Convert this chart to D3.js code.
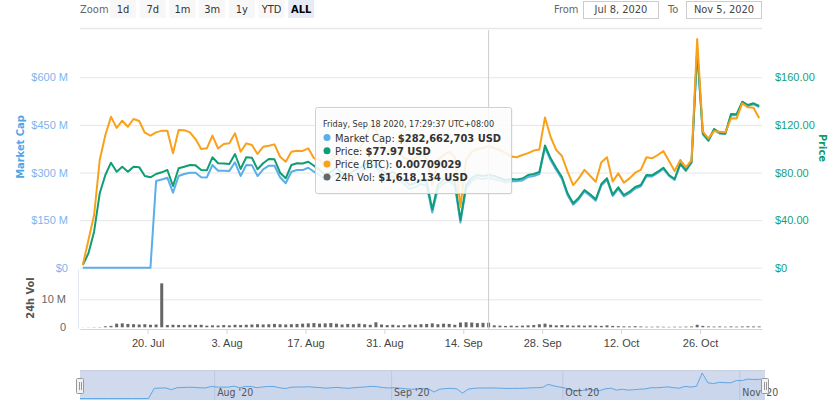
<!DOCTYPE html>
<html>
<head>
<meta charset="utf-8">
<script src="https://cdn.jsdelivr.net/npm/d3@7"></script>
<style>
  body { margin: 0; background: #fff; }
  svg { font-family: 'DejaVu Sans Condensed', 'DejaVu Sans', sans-serif; }
  .grid line { stroke: #e6e6e6; }
  .grid path { display: none; }
  .noline path, .noline line { display: none; }
</style>
</head>
<body>
<div id="chart"></div>
<script>
// daily points, Jul 8 2020 .. Nov 5 2020
var dates = d3.timeDay.range(new Date(2020, 6, 8), new Date(2020, 10, 6))
  .map(function(d) { return d3.timeHour.offset(d, 12); });

// Market cap, million USD
var marketCap = [0,0,0,0,0,0,0,0,0,0,
  0,0,0,273.2,277.9,283.6,236.3,289.0,295.3,299.4,
  299.0,284.9,284.5,323.6,305.7,305.3,305.0,332.1,289.0,323.6,
  323.2,288.8,310.1,321.4,321.2,284.9,266.0,302.5,307.9,307.6,
  315.1,302.5,292.1,276.4,285.8,298.4,282.7,273.2,289.0,300.0,
  309.5,325.2,318.9,293.7,282.7,289.0,276.4,263.8,248.0,254.3,
  263.8,259.0,174.0,249.6,265.3,271.6,259.0,142.4,251.2,273.2,
  282.7,279.5,282.662703,279.0,274.8,268.5,273.2,272.8,274.8,285.8,
  289.0,295.3,378.8,338.5,307.9,279.5,228.2,198.2,215.9,240.1,
  226.6,210.8,259.0,277.0,225.8,248.6,224.4,234.8,249.3,256.8,
  288.3,287.5,298.7,311.3,289.0,276.4,325.8,304.7,330.9,682.9,
  420.4,399.3,433.9,422.3,421.2,481.2,480.6,520.0,509.6,514.9,
  506.4];

// Price, USD
var priceUsd = [2.27,12.10,30.25,62.52,77.90,88.23,80.67,84.87,80.67,84.87,
  84.5,77.06,75.96,78.74,80.16,82.10,68.65,83.53,84.87,86.30,
  86.0,82.10,81.8,92.77,87.73,87.5,87.14,95.54,82.94,92.77,
  92.43,82.69,87.73,91.34,91.09,79.83,75.12,86.30,87.73,87.6,
  89.07,85.71,82.10,77.90,80.42,83.78,79.58,77.06,81.26,83.5,
  86.30,90.50,88.82,82.10,78.74,80.42,77.06,73.69,69.49,71.17,
  73.69,72.01,48.91,69.49,73.69,75.38,72.01,40.08,69.49,75.38,
  77.90,77.06,77.97,77.06,75.38,73.69,74.54,74.2,74.96,77.90,
  78.74,80.42,102.68,91.93,83.78,76.21,62.52,54.12,58.82,65.29,
  61.68,57.48,70.33,75.12,61.4,67.56,61.09,63.86,67.8,69.49,
  77.90,77.6,80.67,84.03,77.90,74.54,87.73,82.10,89.07,182.93,
  112.94,107.31,116.55,113.44,112.7,129.16,129.0,139.49,136.72,138.15,
  135.88];

// Price, BTC
var priceBtc = [0.00016,0.00162,0.00307,0.00628,0.00774,0.00880,0.00815,0.00857,0.00822,0.00867,
  0.00855,0.00787,0.00770,0.00789,0.00799,0.00798,0.00667,0.00803,0.00802,0.00789,
  0.00750,0.00692,0.00696,0.00770,0.00695,0.00721,0.00725,0.00784,0.00676,0.00725,
  0.00715,0.00663,0.00705,0.00711,0.00719,0.00647,0.00618,0.00676,0.00682,0.00681,
  0.00696,0.00638,0.00628,0.00599,0.00626,0.00657,0.00629,0.00610,0.00640,0.00686,
  0.00745,0.00832,0.00803,0.00715,0.00675,0.00686,0.00669,0.00640,0.00628,0.00640,
  0.00657,0.00645,0.00482,0.00628,0.00657,0.00675,0.00645,0.00354,0.00628,0.00675,
  0.00692,0.00698,0.00709029,0.00697,0.00686,0.00669,0.00648,0.00644,0.00657,0.00668,
  0.00683,0.00689,0.00876,0.00762,0.00686,0.00651,0.00560,0.00482,0.00521,0.00570,
  0.00536,0.00501,0.00615,0.00644,0.00502,0.00550,0.00496,0.00521,0.00554,0.00570,
  0.00644,0.00638,0.00657,0.00680,0.00622,0.00564,0.00628,0.00585,0.00627,0.01333,
  0.00793,0.00754,0.00797,0.00793,0.00789,0.00871,0.00870,0.00959,0.00935,0.00933,
  0.00871];

// 24h volume, million USD
var volume = [0.02,0.05,0.08,0.1,0.35,0.5,1.3,1.4,1.2,1.1,
  1.0,1.1,0.9,1.0,15.7,0.8,0.9,0.85,0.8,0.9,
  0.85,0.9,0.6,0.7,0.65,0.8,0.7,0.9,0.8,0.9,
  1.0,1.1,1.0,1.1,1.2,1.1,1.0,1.1,1.2,1.3,
  1.4,1.5,1.3,1.4,1.5,1.3,1.0,1.2,1.1,1.3,
  1.1,0.9,1.8,1.0,0.8,0.9,0.7,0.8,1.0,0.9,
  1.1,1.2,1.4,1.1,1.3,1.2,0.9,1.7,1.8,1.7,
  1.5,1.6,1.618134,0.7,0.6,0.5,0.6,0.5,0.6,0.7,
  0.8,1.1,1.3,0.9,0.7,0.8,0.7,0.6,0.7,0.6,
  0.7,0.6,0.5,0.7,0.5,0.4,0.35,0.3,0.4,0.3,
  0.2,0.2,0.25,0.2,0.15,0.2,0.2,0.25,0.3,0.9,
  0.5,0.3,0.25,0.3,0.2,0.3,0.25,0.3,0.35,0.3,
  0.3];

var mcTicks = [0, 150, 300, 450, 600];
var priceTicks = [0, 40, 80, 120, 160];
var volTicks = [0, 10];
var xTicks = [new Date(2020,6,20), new Date(2020,7,3), new Date(2020,7,17), new Date(2020,7,31),
  new Date(2020,8,14), new Date(2020,8,28), new Date(2020,9,12), new Date(2020,9,26)];
var navTicks = [new Date(2020,7,1), new Date(2020,8,1), new Date(2020,9,1), new Date(2020,10,1)];
var buttons = ["1d", "7d", "1m", "3m", "1y", "YTD", "ALL"];
var hover = 72; // Sep 18

var left = 80, right = 762;
var colMc = "#5aaeea", colPrice = "#119d74", colBtc = "#f9a11b", colVol = "#666666";

var svg = d3.select("#chart").append("svg")
  .attr("width", 830).attr("height", 400);

var x = d3.scaleTime()
  .domain([new Date(2020,6,8), new Date(2020,10,6)])
  .range([left, right]);
var yMc = d3.scaleLinear().domain([0, 600]).range([267.7, 77.3]);
var yPrice = d3.scaleLinear().domain([0, 160]).range([267.7, 77.3]);
var yBtc = d3.scaleLinear().domain([0, 0.0111]).range([267.7, 77.3]);
var yVol = d3.scaleLinear().domain([0, 10]).range([327.3, 299.3]);

// range selector
svg.append("text").attr("x", 80).attr("y", 13).text("Zoom")
  .style("font-size", "11px").style("fill", "#666");
buttons.forEach(function(b, i) {
  var bx = 110 + i * 29.7;
  svg.append("rect").attr("x", bx).attr("y", 0).attr("width", 26).attr("height", 18)
    .attr("fill", b === "ALL" ? "#e6ebf5" : "#f7f7f7");
  svg.append("text").attr("x", bx + 13).attr("y", 13).attr("text-anchor", "middle").text(b)
    .style("font-size", "11px")
    .style("font-weight", b === "ALL" ? "bold" : "normal")
    .style("fill", b === "ALL" ? "#000" : "#333");
});
svg.append("text").attr("x", 554).attr("y", 13).text("From")
  .style("font-size", "11px").style("fill", "#666");
svg.append("rect").attr("x", 583.5).attr("y", 1.5).attr("width", 75).attr("height", 17)
  .attr("fill", "#fff").attr("stroke", "#cccccc");
svg.append("text").attr("x", 621).attr("y", 13).attr("text-anchor", "middle").text("Jul 8, 2020")
  .style("font-size", "11px").style("fill", "#444");
svg.append("text").attr("x", 668).attr("y", 13).text("To")
  .style("font-size", "11px").style("fill", "#666");
svg.append("rect").attr("x", 686.5).attr("y", 1.5).attr("width", 75).attr("height", 17)
  .attr("fill", "#fff").attr("stroke", "#cccccc");
svg.append("text").attr("x", 724).attr("y", 13).attr("text-anchor", "middle").text("Nov 5, 2020")
  .style("font-size", "11px").style("fill", "#444");
svg.append("line").attr("x1", left).attr("x2", right).attr("y1", 28.5).attr("y2", 28.5)
  .attr("stroke", "#e8e8e8").attr("stroke-width", 1.5);

// grid
svg.append("g").attr("class", "grid").attr("transform", "translate(" + left + ",0)")
  .call(d3.axisLeft(yMc).tickValues(mcTicks).tickSize(-(right - left)).tickFormat(""));
svg.append("g").attr("class", "grid").attr("transform", "translate(" + left + ",0)")
  .call(d3.axisLeft(yVol).tickValues([10]).tickSize(-(right - left)).tickFormat(""));

// y axes
var gl = svg.append("g").attr("class", "noline").attr("transform", "translate(" + left + ",0)")
  .call(d3.axisLeft(yMc).tickValues(mcTicks).tickSize(0).tickPadding(12)
    .tickFormat(function(d) { return d === 0 ? "$0" : "$" + d + " M"; }));
gl.selectAll("text").style("font-size", "11px").style("fill", "#7cb5ec").attr("font-family", null);

var gr = svg.append("g").attr("class", "noline").attr("transform", "translate(" + right + ",0)")
  .call(d3.axisRight(yPrice).tickValues(priceTicks).tickSize(0).tickPadding(13)
    .tickFormat(function(d) { return d === 0 ? "$0" : d3.format("$.2f")(d); }));
gr.selectAll("text").style("font-size", "11px").style("fill", "#16a07a").attr("font-family", null);

var gv = svg.append("g").attr("class", "noline").attr("transform", "translate(" + left + ",0)")
  .call(d3.axisLeft(yVol).tickValues(volTicks).tickSize(0).tickPadding(14)
    .tickFormat(function(d) { return d === 0 ? "0" : d + " M"; }));
gv.selectAll("text").style("font-size", "11px").style("fill", "#666").attr("font-family", null);

svg.append("text").attr("transform", "translate(24,147) rotate(-90)")
  .attr("text-anchor", "middle").text("Market Cap")
  .style("font-size", "11px").style("font-weight", "bold").style("fill", "#4fa6e6");
svg.append("text").attr("transform", "translate(819,148) rotate(90)")
  .attr("text-anchor", "middle").text("Price")
  .style("font-size", "11px").style("font-weight", "bold").style("fill", "#0f9a70");
svg.append("text").attr("transform", "translate(34,298) rotate(-90)")
  .attr("text-anchor", "middle").text("24h Vol")
  .style("font-size", "11px").style("font-weight", "bold").style("fill", "#555");

// volume pane border + x axis
svg.append("line").attr("x1", 78.5).attr("x2", 78.5).attr("y1", 270).attr("y2", 329)
  .attr("stroke", "#e3e7f2");
var gx = svg.append("g").attr("transform", "translate(0,329)")
  .call(d3.axisBottom(x).tickValues(xTicks).tickSize(5).tickSizeOuter(0).tickPadding(5)
    .tickFormat(d3.timeFormat("%-d. %b")));
gx.select(".domain").attr("stroke", "#ccd6eb");
gx.selectAll(".tick line").attr("stroke", "#ccd6eb");
gx.selectAll("text").style("font-size", "11px").style("fill", "#444").attr("font-family", null);

// volume bars
svg.append("g").selectAll("rect").data(volume).enter().append("rect")
  .attr("x", function(d, i) { return x(dates[i]) - 1.5; })
  .attr("width", 3)
  .attr("y", function(d) { return yVol(d); })
  .attr("height", function(d) { return yVol(0) - yVol(d); })
  .attr("fill", colVol);

// lines
function addLine(values, yScale, color) {
  var line = d3.line()
    .x(function(d, i) { return x(dates[i]); })
    .y(function(d) { return yScale(d); });
  svg.append("path").datum(values)
    .attr("d", line)
    .attr("fill", "none")
    .attr("stroke", color)
    .attr("stroke-width", 2)
    .attr("stroke-linejoin", "round");
}
addLine(marketCap, yMc, colMc);
addLine(priceUsd, yPrice, colPrice);
addLine(priceBtc, yBtc, colBtc);

// crosshair
svg.append("line").attr("x1", x(dates[hover])).attr("x2", x(dates[hover]))
  .attr("y1", 30).attr("y2", 329).attr("stroke", "#cccccc");

// tooltip
var tip = svg.append("g").attr("transform", "translate(315,107)");
tip.append("rect").attr("x", 1.5).attr("y", 1.5).attr("width", 196).attr("height", 86)
  .attr("rx", 2).attr("fill", "rgba(0,0,0,0.08)");
tip.append("rect").attr("x", 0.5).attr("y", 0.5).attr("width", 196).attr("height", 86)
  .attr("rx", 2).attr("fill", "rgba(255,255,255,0.86)").attr("stroke", "#d0d0d0");
tip.append("text").attr("x", 8).attr("y", 20)
  .text("Friday, Sep 18 2020, 17:29:37 UTC+08:00")
  .style("font-size", "9px").style("fill", "#333");
var rows = [
  ["Market Cap: ", "$" + d3.format(",")(Math.round(marketCap[hover] * 1e6)) + " USD", colMc],
  ["Price: ", "$" + priceUsd[hover].toFixed(2) + " USD", colPrice],
  ["Price (BTC): ", priceBtc[hover].toFixed(8), colBtc],
  ["24h Vol: ", "$" + d3.format(",")(Math.round(volume[hover] * 1e6)) + " USD", colVol]
];
rows.forEach(function(r, i) {
  var cy = 30.5 + i * 13.2;
  tip.append("circle").attr("cx", 12).attr("cy", cy).attr("r", 3.5).attr("fill", r[2]);
  var t = tip.append("text").attr("x", 20).attr("y", cy + 4)
    .style("font-size", "11px").style("fill", "#333");
  t.append("tspan").text(r[0]);
  t.append("tspan").text(r[1]).style("font-weight", "bold");
});

// navigator
var xNav = d3.scaleTime().domain([dates[0], dates[dates.length - 1]]).range([80, 765]);
var yNav = d3.scaleLinear().domain([0, d3.max(marketCap)]).range([398.5, 373]);
svg.append("g").selectAll("line").data(navTicks).enter().append("line")
  .attr("x1", function(d) { return xNav(d) + 0.5; })
  .attr("x2", function(d) { return xNav(d) + 0.5; })
  .attr("y1", 370).attr("y2", 400).attr("stroke", "#e6e6e6");
svg.append("path").datum(marketCap)
  .attr("d", d3.area()
    .x(function(d, i) { return xNav(dates[i]); })
    .y0(400).y1(function(d) { return yNav(d); }))
  .attr("fill", "rgba(124,181,236,0.08)");
svg.append("rect").attr("x", 80).attr("y", 370).attr("width", 685).attr("height", 32)
  .attr("fill", "rgba(102,133,194,0.3)");
svg.append("line").attr("x1", 80).attr("x2", 765).attr("y1", 370.5).attr("y2", 370.5)
  .attr("stroke", "#c8cfdf");
svg.append("path").datum(marketCap)
  .attr("d", d3.line()
    .x(function(d, i) { return xNav(dates[i]); })
    .y(function(d) { return yNav(d); }))
  .attr("fill", "none").attr("stroke", "#5fa6e4").attr("stroke-width", 1);
svg.append("g").selectAll("text").data(navTicks).enter().append("text")
  .attr("x", function(d) { return xNav(d) + 3; })
  .attr("y", 396)
  .text(d3.timeFormat("%b '%y"))
  .style("font-size", "10.5px").style("fill", "#555");
[80, 765].forEach(function(hx) {
  svg.append("rect").attr("x", hx - 3.5).attr("y", 378.5).attr("width", 7).attr("height", 15)
    .attr("rx", 1).attr("fill", "#f2f2f2").attr("stroke", "#999");
  svg.append("line").attr("x1", hx - 0.5).attr("x2", hx - 0.5).attr("y1", 382).attr("y2", 390)
    .attr("stroke", "#999");
  svg.append("line").attr("x1", hx + 1.5).attr("x2", hx + 1.5).attr("y1", 382).attr("y2", 390)
    .attr("stroke", "#999");
});
</script>
</body>
</html>
